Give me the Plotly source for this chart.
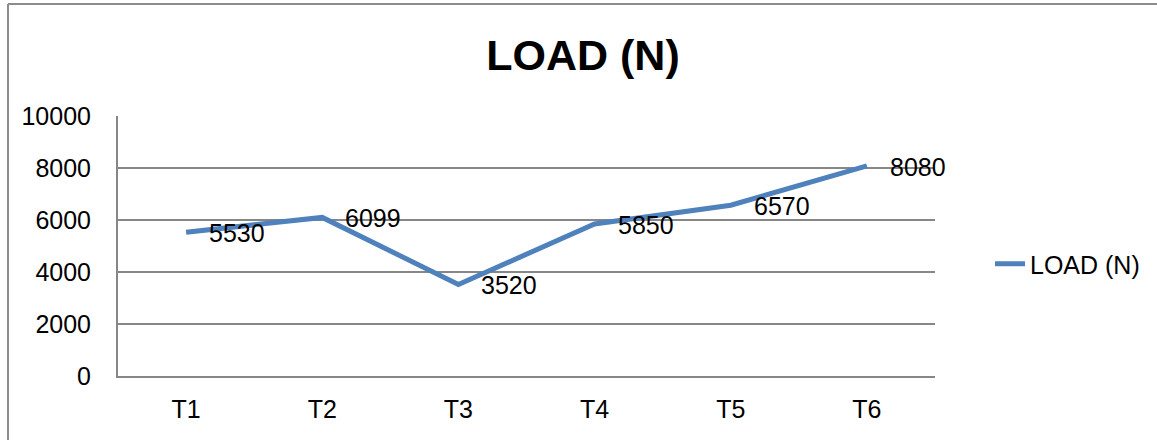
import plotly.graph_objects as go

categories = ["T1", "T2", "T3", "T4", "T5", "T6"]
load_values = [5530, 6099, 3520, 5850, 6570, 8080]
y_ticks = [0, 2000, 4000, 6000, 8000, 10000]
series_name = "LOAD (N)"

FONT = "Liberation Sans, Arial, sans-serif"
W, H = 1157, 440
L, R, T, B = 118, 222, 116, 64
pw, ph = W - L - R, H - T - B

fig = go.Figure()
fig.add_trace(go.Scatter(
    x=categories, y=load_values, mode="lines", name=series_name,
    line=dict(color="#4F81BD", width=5),
))

for c, v in zip(categories, load_values):
    fig.add_annotation(x=c, y=v, text=str(v), showarrow=False,
                       xanchor="left", yanchor="middle", xshift=21, yshift=-1,
                       font=dict(family=FONT, size=25, color="#000000"))

def px_to_paper_x(px):
    return (px - L) / pw

def px_to_paper_y(py):
    return (H - B - py) / ph

# chart border (outer frame)
fig.add_shape(type="line", xref="paper", yref="paper",
              x0=px_to_paper_x(8), x1=px_to_paper_x(W + 5),
              y0=px_to_paper_y(4), y1=px_to_paper_y(4),
              line=dict(color="#8C8C8C", width=2))
fig.add_shape(type="line", xref="paper", yref="paper",
              x0=px_to_paper_x(8), x1=px_to_paper_x(8),
              y0=px_to_paper_y(4), y1=px_to_paper_y(H + 5),
              line=dict(color="#8C8C8C", width=2))

fig.update_layout(
    width=W, height=H,
    margin=dict(l=L, r=R, t=T, b=B, autoexpand=False),
    paper_bgcolor="white", plot_bgcolor="white",
    title=dict(text="<b>LOAD (N)</b>", x=583 / W, xanchor="center",
               y=1 - 55 / H, yanchor="middle",
               font=dict(family=FONT, size=43, color="#000000")),
    showlegend=True,
    legend=dict(x=px_to_paper_x(990), xanchor="left", y=px_to_paper_y(264), yanchor="middle",
                font=dict(family=FONT, size=25, color="#000000"),
                bgcolor="rgba(0,0,0,0)"),
    xaxis=dict(type="category", range=[-0.5, 5.5], showgrid=False,
               showline=True, linecolor="#878787", linewidth=2,
               ticks="", tickfont=dict(family=FONT, size=25, color="#000000"),
               ticklabelstandoff=10, zeroline=False),
    yaxis=dict(range=[0, 10000], tickvals=y_ticks, ticktext=[str(t) for t in y_ticks],
               showgrid=True, gridcolor="#878787", gridwidth=1.5,
               showline=True, linecolor="#878787", linewidth=2,
               ticks="", tickfont=dict(family=FONT, size=25, color="#000000"),
               ticklabelstandoff=20, zeroline=False),
)

fig.write_html("out.html", config={"displayModeBar": False},
               post_script="document.body.style.margin='0';document.body.style.overflow='hidden';")
